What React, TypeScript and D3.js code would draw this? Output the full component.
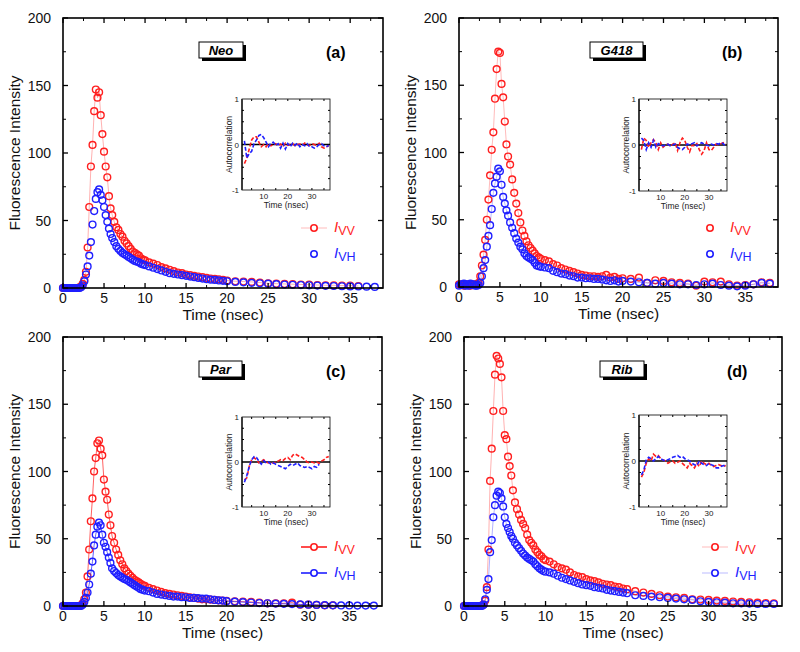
import React from 'react';
import * as d3 from 'd3';

// ---------- DATA ----------
const TIME = [
  0, 0.2, 0.4, 0.6, 0.8, 1.0, 1.2, 1.4, 1.6, 1.8, 2.0,
  2.2, 2.4, 2.6, 2.8, 3.0, 3.2, 3.4, 3.6, 3.8, 4.0, 4.2, 4.4, 4.6, 4.8, 5.0, 5.2, 5.4, 5.6, 5.8, 6.0,
  6.25, 6.5, 6.75, 7, 7.25, 7.5, 7.75, 8, 8.25, 8.5, 8.75, 9, 9.25, 9.5, 9.75, 10,
  10.5, 11, 11.5, 12, 12.5, 13, 13.5, 14, 14.5, 15, 15.5, 16, 16.5, 17, 17.5, 18, 18.5, 19, 19.5, 20,
  21, 22, 23, 24, 25, 26, 27, 28, 29, 30, 31, 32, 33, 34, 35, 36, 37, 38,
];

const NEO_VV = [
  0, 0, 0, 0, 0, 0, 0, 0, 0, 0, 0.5,
  1, 3, 6, 12, 30, 60, 90, 106, 131, 147, 141, 145, 128, 114, 101, 90, 82, 68, 59, 54,
  49, 45, 43, 40, 38, 35, 33, 31, 29, 27, 26, 25, 24, 22, 21, 20.5,
  19, 18, 17, 15.5, 14.5, 13.5, 12.5, 11.5, 11, 10, 9.5, 9, 8.5, 8, 7.5, 7, 6.8, 6.5, 6, 5.5,
  5, 4.8, 4.5, 4, 3.5, 3.2, 3, 2.8, 2.6, 2.5, 2.2, 2, 2, 1.8, 1.8, 1.5, null, null,
];
const NEO_VH = [
  0, 0, 0, 0, 0, 0, 0, 0, 0, 0, 0,
  0.5, 2, 5, 10, 16, 24, 34, 47, 57, 66, 71, 73, 69, 65, 60, 54, 49, 44, 40, 37,
  34, 31, 29, 27.5, 26, 25, 24, 23, 22, 21, 20, 19.5, 19, 18, 17.5, 17,
  16, 15, 14, 13, 12, 11, 10.5, 10, 9.5, 9, 8.5, 8, 7.5, 7, 6.5, 6.2, 6, 5.6, 5.3, 5,
  4.5, 4.2, 3.8, 3.5, 3.2, 2.8, 2.6, 2.4, 2.2, 2, 1.8, 1.6, 1.5, 1.3, 1.2, 1.1, 1, 0.8,
];
const G418_VV = [
  2, 1.5, 2, 1, 2, 1.5, 2, 1, 2, 1.5, 2,
  2, 3, 8, 16, 24, 35, 50, 65, 83, 102, 115, 140, 162, 175, 174, 151, 141, 123, 106, 97,
  91, 80, 70, 62, 55, 48, 42, 38, 34, 31, 29, 27, 25, 23, 22, 21,
  20, 19, 17, 16, 14, 13, 12, 11, 10, 9, 8.5, 8, 8, 7.5, 8, 9, 7, 7.5, 6, 6.5,
  6, 7, 3, 5, 4.5, 3.5, 3, 2.5, 1, 4, 3.5, 4, 2, 1, 1.5, 2, 3.5, 3,
];
const G418_VH = [
  1, 2, 1.5, 2.5, 1, 2, 1, 2.5, 1.5, 2, 1,
  1, 1.5, 3, 8, 14, 20, 30, 38, 46, 58, 70, 77, 82, 88, 86, 76, 67, 62, 57, 53,
  48, 44, 40, 36, 33, 30, 28, 25, 23, 22, 21, 20, 18, 16, 15.5, 15,
  14.5, 14, 12, 11, 10, 9.5, 8.5, 8, 7, 7, 6.5, 6.5, 6, 6, 5.5, 5, 4.5, 5, 4, 4.5,
  4, 3.5, 3, 2.5, 3, 2.5, 2, 2, 1.5, 2, 2.5, 1.5, 1, 0.5, 1, 2, 3, 2.5,
];
const PAR_VV = [
  0, 0, 0, 0, 0, 0, 0, 0, 0, 0, 0,
  0.5, 2, 5, 10, 22, 42, 63, 80, 100, 110, 121, 123, 117, 112, 94, 85, 79, 68, 60, 52,
  47, 42, 38, 34, 31, 28, 26, 24, 22.5, 21, 19.5, 18.5, 17.5, 16.5, 15.5, 15,
  13.5, 12.5, 11.5, 10.5, 9.5, 9, 8.5, 8, 7.5, 7, 6.5, 6, 5.5, 5, 5, 4.8, 4.5, 4.2, 4, 3.8,
  3.5, 3.2, 3, 2.5, 2, 2, 2, 2.5, 1, 1, 0.8, 0.5, 0.5, null, null, null, null, null,
];
const PAR_VH = [
  0, 0, 0, 0, 0, 0, 0, 0, 0, 0, 0,
  0, 1, 3, 6, 10, 16, 24, 33, 45, 53, 59, 62, 60, 53, 47, 44, 40, 36, 32, 28,
  26, 24.5, 23, 22, 21, 20, 19.5, 18.5, 17.5, 16.5, 15.5, 14.5, 13.5, 12.5, 12, 11.5,
  11, 10, 9, 8.5, 8, 7.5, 7, 7, 6.5, 6.5, 6, 6, 5.8, 5.5, 5.5, 5, 4.5, 4.2, 4, 3.6,
  3.2, 2.9, 2.6, 2.2, 2, 1.8, 1.6, 1.4, 1.2, 1, 0.8, 0.6, 0.5, 0.4, 0.4, 0.3, 0.3, 0.3,
];
const RIB_VV = [
  0, 0, 0, 0, 0, 0, 0, 0, 0, 0, 0,
  0.5, 1, 4, 14, 42, 93, 117, 145, 172, 186, 184, 180, 170, 145, 127, 124, 111, 104, 97, 86,
  77, 72, 68, 64, 61, 58, 53, 49, 47, 45, 42, 40, 38, 37, 35, 34,
  33, 31, 29, 28, 27, 25, 23, 22, 21.5, 20, 19, 18.5, 17.5, 16.5, 16, 15.5, 14.5, 14, 13, 12.5,
  11, 10, 9, 8, 7, 6.5, 6, 5, 4.8, 4.5, 4, 3.8, 3.3, 3, 2.8, 2.5, 2.2, 2,
];
const RIB_VH = [
  0, 0, 0, 0, 0, 0, 0, 0, 0, 0, 0,
  0, 1, 5, 12, 20, 40, 49, 66, 75, 82, 85, 84, 80, 74, 66, 61, 58, 55, 52, 50,
  47, 45, 43, 41, 39, 37.5, 36, 35, 34, 33, 31, 29.5, 28, 27, 26, 25.5,
  25, 24, 22.5, 21, 20, 19, 18, 17, 16, 15.5, 15, 14, 13.5, 13, 12, 11.5, 11, 10.5, 10, 9.5,
  8, 7.5, 7, 6.5, 6, 5.5, 5, 4.5, 3.5, 3, 2.8, 2.5, 2, 2, 1.8, 1.5, 1.5, 1.5,
];

const INSET_TIME = [
  2, 3, 4, 5, 6, 7, 8, 9, 10, 11, 12, 13, 14, 15, 16, 17, 18, 19, 20, 21,
  22, 23, 24, 25, 26, 27, 28, 29, 30, 31, 32, 33, 34, 35, 36, 37,
];
const NEO_AC_VV = [
  -0.42, -0.3, -0.1, 0.1, 0.17, 0.17, 0.05, -0.05, 0, -0.05, 0.02, -0.03, 0, 0.02, -0.03, 0.01, -0.05, 0.03, -0.02, 0,
  0.02, -0.03, 0, 0.01, -0.02, 0.03, -0.01, -0.02, 0.02, 0, -0.02, 0.03, -0.05, -0.08, -0.05, -0.03,
];
const NEO_AC_VH = [
  0.08, -0.3, -0.2, -0.15, 0.02, 0.1, 0.2, 0.22, 0.15, 0.05, -0.05, 0.03, 0.05, -0.02, 0.02, -0.08, 0.03, -0.1, 0.02, -0.05,
  0.03, -0.02, 0.03, -0.05, 0, -0.03, 0.02, -0.05, -0.05, -0.08, -0.05, 0, 0.02, -0.03, -0.05, -0.02,
];
const G418_AC_VV = [
  -0.1, 0.15, 0.1, -0.05, 0.05, 0.12, 0.05, -0.1, 0.05, -0.05, 0, 0.02, -0.03, 0.02, 0.05, -0.12, 0.05, 0.15, 0.1, -0.05,
  -0.15, 0, -0.02, 0.03, -0.1, -0.2, -0.12, 0.05, -0.1, -0.12, -0.05, 0.02, 0, 0.03, 0.05, 0.02,
];
const G418_AC_VH = [
  0.15, 0.1, -0.1, 0.05, -0.05, 0.1, -0.05, 0.03, 0, -0.02, 0, 0.02, -0.02, 0, 0.02, -0.05, -0.08, -0.1, -0.05, 0.02,
  0, 0.03, 0.05, -0.02, 0.02, 0.05, 0.02, 0, -0.02, 0.02, 0, 0.03, 0.02, 0.05, 0.03, -0.05,
];
const PAR_AC_VV = [
  -0.4, -0.35, -0.1, 0.05, 0.1, 0.05, -0.02, 0.02, 0.05, 0, -0.02, 0, -0.03, 0, 0.02, 0.05, 0.03, 0.08, 0.1, 0.05,
  0.15, 0.18, 0.15, 0.12, 0.1, 0.05, 0, -0.02, 0, -0.02, 0, -0.03, 0.02, 0.05, 0.1, 0.12,
];
const PAR_AC_VH = [
  -0.45, -0.3, -0.1, 0.05, 0.12, 0.1, 0.02, -0.05, 0.03, -0.02, 0, -0.05, -0.02, -0.05, -0.08, -0.1, -0.12, -0.15, -0.1, -0.05,
  -0.08, -0.05, -0.02, -0.08, -0.1, -0.12, -0.1, -0.12, -0.15, -0.1, -0.12, -0.05, null, null, null, null,
];
const RIB_AC_VV = [
  -0.35, -0.25, -0.05, 0.05, 0, 0.15, 0.1, 0.12, 0.05, 0.02, 0, -0.05, -0.02, 0, -0.05, -0.03, 0, -0.05, -0.1, -0.15,
  -0.05, -0.1, -0.15, -0.05, -0.12, 0, -0.05, -0.08, -0.05, -0.1, -0.12, -0.1, -0.08, -0.1, -0.12, -0.1,
];
const RIB_AC_VH = [
  -0.3, -0.2, 0.02, 0.08, 0.05, 0, 0.05, 0.1, 0.05, 0.02, 0, 0.03, 0.05, 0.08, 0.1, 0.12, 0.08, 0.1, 0.05, 0.03,
  0, -0.05, -0.08, -0.1, 0, -0.05, -0.08, -0.1, -0.05, -0.08, -0.1, -0.15, -0.15, -0.12, -0.1, -0.1,
];

const X_TICKS = [0, 5, 10, 15, 20, 25, 30, 35];
const Y_TICKS = [0, 50, 100, 150, 200];
const INSET_X_TICKS = [10, 20, 30];
const INSET_Y_TICKS = [-1, 0, 1];
const SAMPLE_NAMES = ['Neo', 'G418', 'Par', 'Rib'];
const PANEL_LETTERS = ['(a)', '(b)', '(c)', '(d)'];
const SERIES_LABELS = ['VV', 'VH'];

// ---------- STYLE / LAYOUT ----------
const FONT = "Arial, 'Liberation Sans', Helvetica, sans-serif";
const RED = '#ff1f1f';
const BLUE = '#1f1fff';

const PANELS = [
  { left: 63, top: 18, w: 320, h: 270, vv: NEO_VV, vh: NEO_VH, acvv: NEO_AC_VV, acvh: NEO_AC_VH,
    inset: { l: 242, t: 99, r: 330, b: 190 }, boxW: 44, boxDx: 136, lineOp: [0.35, 0], legLine: [0.3, 0] },
  { left: 459, top: 18, w: 319, h: 269, vv: G418_VV, vh: G418_VH, acvv: G418_AC_VV, acvh: G418_AC_VH,
    inset: { l: 639, t: 99, r: 727, b: 191 }, boxW: 53, boxDx: 131, lineOp: [0.3, 0.3], legLine: [0, 0] },
  { left: 63, top: 337, w: 319, h: 269, vv: PAR_VV, vh: PAR_VH, acvv: PAR_AC_VV, acvh: PAR_AC_VH,
    inset: { l: 242, t: 417, r: 330, b: 507 }, boxW: 43, boxDx: 136, lineOp: [0.7, 0.7], legLine: [1, 1] },
  { left: 464, top: 337, w: 318, h: 269, vv: RIB_VV, vh: RIB_VH, acvv: RIB_AC_VV, acvh: RIB_AC_VH,
    inset: { l: 639, t: 415, r: 727, b: 507 }, boxW: 44, boxDx: 136, lineOp: [0.35, 0.35], legLine: [0.3, 0.3] },
];

function Panel({ p, idx }: { p: any; idx: number }) {
  const x = d3.scaleLinear().domain([0, 39]).range([p.left, p.left + p.w]);
  const y = d3.scaleLinear().domain([0, 200]).range([p.top + p.h, p.top]);
  const bottom = p.top + p.h;
  const right = p.left + p.w;

  const pts = (vals: (number | null)[]) =>
    TIME.map((t, i) => [t, vals[i]] as [number, number | null]).filter((d) => d[1] != null) as [number, number][];

  const line = d3
    .line<[number, number]>()
    .x((d) => x(d[0]))
    .y((d) => y(d[1]));

  const minorX = X_TICKS.map((t) => t + 2.5).filter((t) => t < 39);
  const minorY = Y_TICKS.slice(0, -1).map((t) => t + 25);

  const series = [
    { vals: p.vv, color: RED, op: p.lineOp[0], legOp: p.legLine[0], label: SERIES_LABELS[0] },
    { vals: p.vh, color: BLUE, op: p.lineOp[1], legOp: p.legLine[1], label: SERIES_LABELS[1] },
  ];

  // inset
  const ins = p.inset;
  const xi = d3.scaleLinear().domain([1, 37.5]).range([ins.l, ins.r]);
  const yi = d3.scaleLinear().domain([-1, 1]).range([ins.b, ins.t]);
  const insLine = d3
    .line<[number, number]>()
    .x((d) => xi(d[0]))
    .y((d) => yi(d[1]));
  const insPts = (vals: (number | null)[]) =>
    INSET_TIME.map((t, i) => [t, vals[i]] as [number, number | null]).filter((d) => d[1] != null) as [number, number][];
  const insMinorX = [5, 10, 15, 20, 25, 30, 35];
  const insMinorY = [-0.75, -0.5, -0.25, 0.25, 0.5, 0.75];

  const boxX = p.left + p.boxDx;
  const boxY = p.top + 24;
  const legX = p.left + 251;
  const legY = [p.top + 210, p.top + 236];

  return (
    <g>
      {/* data */}
      {series.map((s, si) => {
        const d = pts(s.vals);
        return (
          <g key={si}>
            {s.op > 0 && <path d={line(d) || ''} fill="none" stroke={s.color} strokeOpacity={s.op} strokeWidth={1} />}
            {d.map((q, k) => (
              <circle key={k} cx={x(q[0])} cy={y(q[1])} r={3.4} fill="none" stroke={s.color} strokeWidth={1.4} />
            ))}
          </g>
        );
      })}

      {/* frame */}
      <rect x={p.left} y={p.top} width={p.w} height={p.h} fill="none" stroke="#000" strokeWidth={1.6} />
      {X_TICKS.map((t) => (
        <g key={'xt' + t}>
          <line x1={x(t)} x2={x(t)} y1={bottom} y2={bottom - 5} stroke="#000" strokeWidth={1.3} />
          <line x1={x(t)} x2={x(t)} y1={p.top} y2={p.top + 5} stroke="#000" strokeWidth={1.3} />
          <text x={x(t)} y={bottom + 15} textAnchor="middle" fontSize={14} fill="#111" fontFamily={FONT}>{t}</text>
        </g>
      ))}
      {minorX.map((t) => (
        <g key={'xm' + t}>
          <line x1={x(t)} x2={x(t)} y1={bottom} y2={bottom - 3} stroke="#000" strokeWidth={1} />
          <line x1={x(t)} x2={x(t)} y1={p.top} y2={p.top + 3} stroke="#000" strokeWidth={1} />
        </g>
      ))}
      {Y_TICKS.map((t) => (
        <g key={'yt' + t}>
          <line x1={p.left} x2={p.left + 5} y1={y(t)} y2={y(t)} stroke="#000" strokeWidth={1.3} />
          <line x1={right} x2={right - 5} y1={y(t)} y2={y(t)} stroke="#000" strokeWidth={1.3} />
          <text x={p.left - 12} y={y(t) + 5} textAnchor="end" fontSize={14} fill="#111" fontFamily={FONT}>{t}</text>
        </g>
      ))}
      {minorY.map((t) => (
        <g key={'ym' + t}>
          <line x1={p.left} x2={p.left + 3} y1={y(t)} y2={y(t)} stroke="#000" strokeWidth={1} />
          <line x1={right} x2={right - 3} y1={y(t)} y2={y(t)} stroke="#000" strokeWidth={1} />
        </g>
      ))}
      <text x={(p.left + right) / 2} y={bottom + 32} textAnchor="middle" fontSize={15.5} fill="#111" fontFamily={FONT}>Time (nsec)</text>
      <text
        transform={`translate(${p.left - 43},${(p.top + bottom) / 2}) rotate(-90)`}
        textAnchor="middle"
        fontSize={15.5}
        fill="#111"
        fontFamily={FONT}
      >
        Fluorescence Intensity
      </text>

      {/* sample name box */}
      <rect x={boxX + 3} y={boxY + 3} width={p.boxW} height={16} fill="#000" />
      <rect x={boxX} y={boxY} width={p.boxW} height={16} fill="#fff" stroke="#000" strokeWidth={1} />
      <text x={boxX + p.boxW / 2} y={boxY + 12.5} textAnchor="middle" fontSize={13} fontWeight="bold" fontStyle="italic" fontFamily={FONT}>
        {SAMPLE_NAMES[idx]}
      </text>
      <text x={p.left + 263} y={p.top + 40} fontSize={16} fontWeight="bold" fontFamily={FONT}>{PANEL_LETTERS[idx]}</text>

      {/* legend */}
      {series.map((s, si) => (
        <g key={'leg' + si}>
          {s.legOp > 0 && (
            <line x1={legX - 13} x2={legX + 13} y1={legY[si]} y2={legY[si]} stroke={s.color} strokeOpacity={s.legOp} strokeWidth={s.legOp >= 1 ? 1.6 : 1} />
          )}
          <circle cx={legX} cy={legY[si]} r={3.2} fill="#fff" stroke={s.color} strokeWidth={1.6} />
          <text x={legX + 20} y={legY[si] + 4} fill={s.color} fontFamily={FONT}>
            <tspan fontSize={15} fontStyle="italic">I</tspan>
            <tspan fontSize={12.5} dy={2.5}>{s.label}</tspan>
          </text>
        </g>
      ))}

      {/* inset */}
      <g>
        <rect x={ins.l} y={ins.t} width={ins.r - ins.l} height={ins.b - ins.t} fill="#fff" stroke="#000" strokeWidth={0.8} />
        <line x1={ins.l} x2={ins.l} y1={ins.t} y2={ins.b} stroke="#333" strokeWidth={1.8} />
        {insMinorX.map((t) => (
          <g key={'ixm' + t}>
            <line x1={xi(t)} x2={xi(t)} y1={ins.b} y2={ins.b - 2} stroke="#000" strokeWidth={1} />
            <line x1={xi(t)} x2={xi(t)} y1={ins.t} y2={ins.t + 2} stroke="#000" strokeWidth={1} />
          </g>
        ))}
        {insMinorY.map((t) => (
          <g key={'iym' + t}>
            <line x1={ins.r} x2={ins.r - 2} y1={yi(t)} y2={yi(t)} stroke="#000" strokeWidth={1} />
            <line x1={ins.l} x2={ins.l + 2} y1={yi(t)} y2={yi(t)} stroke="#000" strokeWidth={1} />
          </g>
        ))}
        {INSET_X_TICKS.map((t) => (
          <text key={'ixt' + t} x={xi(t)} y={ins.b + 9} textAnchor="middle" fontSize={8} fill="#222" fontFamily={FONT}>{t}</text>
        ))}
        {INSET_Y_TICKS.map((t) => (
          <text key={'iyt' + t} x={ins.l - 3} y={yi(t) + 3} textAnchor="end" fontSize={8} fill="#222" fontFamily={FONT}>{t}</text>
        ))}
        <text x={(ins.l + ins.r) / 2} y={ins.b + 18} textAnchor="middle" fontSize={8.5} fill="#222" fontFamily={FONT}>Time (nsec)</text>
        <text
          transform={`translate(${ins.l - 10},${(ins.t + ins.b) / 2}) rotate(-90)`}
          textAnchor="middle"
          fontSize={8.5}
          fill="#222"
          fontFamily={FONT}
        >
          Autocorrelation
        </text>
        <line x1={ins.l} x2={ins.r} y1={yi(0)} y2={yi(0)} stroke="#000" strokeWidth={1.5} />
        <path d={insLine(insPts(p.acvv)) || ''} fill="none" stroke={RED} strokeWidth={1.6} strokeDasharray="4,2" />
        <path d={insLine(insPts(p.acvh)) || ''} fill="none" stroke={BLUE} strokeWidth={1.6} strokeDasharray="4,2" />
      </g>
    </g>
  );
}

export default function App() {
  return (
    <svg
      width={800}
      height={652}
      viewBox="0 0 800 652"
      style={{ position: 'absolute', left: 0, top: 0, background: '#fff' }}
    >
      <rect x={0} y={0} width={800} height={652} fill="#fff" />
      {PANELS.map((p, i) => (
        <Panel key={i} p={p} idx={i} />
      ))}
    </svg>
  );
}
